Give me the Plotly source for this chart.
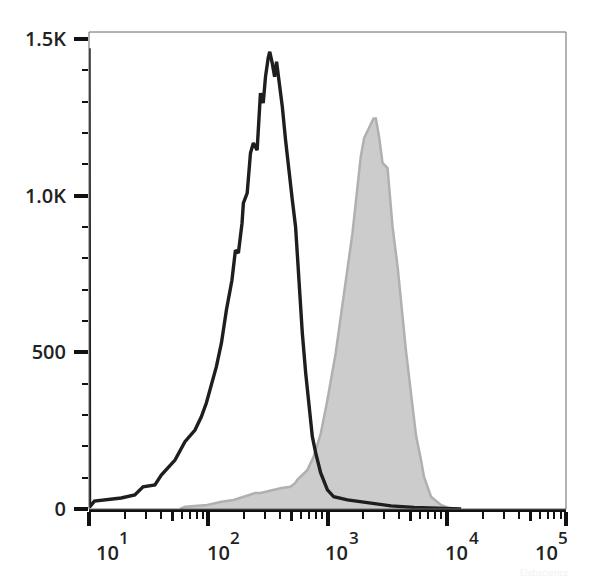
import plotly.graph_objects as go

# ---- data ----
black_x = [10.0, 10.1, 11.1, 14.4, 18.6, 24.2, 28.4, 35.7, 40.4, 52.6, 63.8, 77.4, 87.5, 96.4, 106,
           117, 129, 142, 158, 169, 179, 192, 197, 212, 226, 239, 257, 264, 274, 289, 302, 318, 328,
           344, 360, 374, 391, 418, 445, 474, 507, 540, 576, 615, 656, 699, 746, 796, 877, 998, 1128,
           1469, 1901, 2447, 3401, 5312, 8954, 13200]
black_y = [1470, 6, 25, 29, 35, 45, 71, 77, 108, 156, 215, 252, 294, 338, 396,
           454, 530, 635, 730, 826, 817, 912, 976, 1008, 1136, 1168, 1145, 1231, 1327, 1295, 1379, 1439, 1459,
           1423, 1379, 1427, 1368, 1283, 1177, 1072, 986, 900, 722, 561, 434, 326, 231, 179, 115, 61, 39,
           29, 23, 16, 10, 5, 2, 0]

gray_x = [58, 64, 98, 129, 163, 248, 274, 412, 490, 537, 558, 677, 766, 877, 998, 1064, 1172, 1291,
          1469, 1619, 1784, 1901, 2027, 2234, 2432, 2543, 2710, 2893, 3187, 3289, 3513, 3872, 4126,
          4545, 5012, 5524, 6087, 6440, 7380, 8954, 10450, 12220]
gray_y = [0, 7, 13, 23, 29, 51, 51, 67, 71, 83, 93, 124, 167, 240, 348, 411, 498, 613,
          773, 880, 1028, 1124, 1183, 1219, 1246, 1246, 1187, 1104, 1088, 1028, 900, 773, 667,
          507, 370, 235, 156, 103, 39, 13, 3, 0]

y_tick_vals = [0, 500, 1000, 1500]
y_tick_text = ["0", "500", "1.0K", "1.5K"]
x_decades = [1, 2, 3, 4, 5]
x_label_base = ["10", "10", "10", "10", "10"]
x_label_exp = ["1", "2", "3", "4", "5"]
x_label_shift = [18, 10, 9, 10, -20]

FONT = "Open Sans"
TXT = "#222222"

fig = go.Figure()

fig.add_trace(go.Scatter(
    x=gray_x, y=gray_y, mode="lines", fill="tozeroy",
    fillcolor="#cccccc", line=dict(color="#b0b0b0", width=2.5),
    hoverinfo="skip", showlegend=False))

fig.add_trace(go.Scatter(
    x=black_x, y=black_y, mode="lines",
    line=dict(color="#1e1e1e", width=3.4),
    hoverinfo="skip", showlegend=False))

# helper trace so the secondary x axis (5x ticks) is rendered
fig.add_trace(go.Scatter(x=[10], y=[None], xaxis="x2", mode="lines",
                         showlegend=False, hoverinfo="skip"))

minor_x = [k * 10 ** n for n in range(1, 5) for k in (2, 3, 4, 6, 7, 8, 9)]
mid_x = [5 * 10 ** n for n in range(1, 5)]
minor_y = [v for v in range(100, 1500, 100) if v % 500 != 0]

# the page body adds an 8px offset, so margins are reduced accordingly
fig.update_layout(
    width=600, height=578,
    margin=dict(l=81, r=42, t=24, b=77),
    paper_bgcolor="white", plot_bgcolor="white",
    xaxis=dict(
        type="log", range=[1, 5], showgrid=False, zeroline=False,
        showline=True, linecolor="#111111", linewidth=3,
        tickmode="array", tickvals=[10 ** d for d in x_decades],
        ticks="outside", ticklen=14, tickwidth=4, tickcolor="#111111",
        showticklabels=False,
        minor=dict(tickmode="array", tickvals=minor_x, ticks="outside",
                   ticklen=7, tickwidth=2, tickcolor="#111111", showgrid=False),
    ),
    xaxis2=dict(
        type="log", range=[1, 5], overlaying="x", side="bottom", anchor="y",
        showgrid=False, zeroline=False, showline=False,
        tickmode="array", tickvals=mid_x, ticks="outside", ticklen=11,
        tickwidth=3, tickcolor="#111111", showticklabels=False,
    ),
    yaxis=dict(
        range=[0, 1522], showgrid=False, zeroline=False, showline=False,
        tickmode="array", tickvals=y_tick_vals, ticktext=y_tick_text,
        ticks="outside", ticklen=14, tickwidth=4, tickcolor="#111111",
        ticklabelstandoff=4,
        tickfont=dict(family=FONT, size=20, color=TXT, weight=600),
        minor=dict(tickmode="array", tickvals=minor_y, ticks="outside",
                   ticklen=6, tickwidth=2, tickcolor="#111111", showgrid=False),
    ),
    shapes=[dict(type="rect", xref="paper", yref="paper", x0=0, x1=1, y0=0, y1=1,
                 line=dict(color="#666666", width=1), layer="above")],
)

for d, base, ex, sh in zip(x_decades, x_label_base, x_label_exp, x_label_shift):
    fig.add_annotation(x=d, xref="x", y=0, yref="paper", text=base, showarrow=False,
                       xanchor="center", yanchor="middle", xshift=sh, yshift=-43,
                       font=dict(family=FONT, size=20, color=TXT, weight=600))
    fig.add_annotation(x=d, xref="x", y=0, yref="paper", text=ex, showarrow=False,
                       xanchor="center", yanchor="middle", xshift=sh + 17, yshift=-28,
                       font=dict(family=FONT, size=17, color=TXT, weight=600))

fig.add_annotation(x=1, xref="paper", y=0, yref="paper", text="Elabscience",
                   showarrow=False, xanchor="center", yanchor="middle",
                   xshift=-22, yshift=-63,
                   font=dict(family=FONT, size=9, color="#f0f0f0"))

fig.write_html("out.html")
